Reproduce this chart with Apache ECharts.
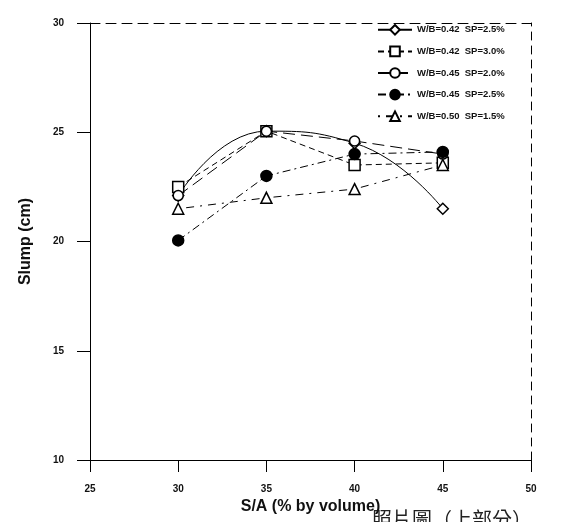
<!DOCTYPE html>
<html>
<head>
<meta charset="utf-8">
<script src="https://cdn.jsdelivr.net/npm/echarts@6/dist/echarts.min.js"></script>
<style>
html,body{margin:0;padding:0;background:#fff;}
#chart{width:565px;height:522px;}
</style>
</head>
<body>
<div id="chart"></div>
<script>
// S/A (% by volume)
const xValues = [30, 35, 40, 45];
// Slump (cm)
const wb042sp25 = [22.1, 25.05, 24.5, 21.5];
const wb042sp30 = [22.5, 25.05, 23.5, 23.6];
const wb045sp20 = [22.1, 25.05, 24.6, 24.0];
const wb045sp25 = [20.05, 23.0, 24.0, 24.1];
const wb050sp15 = [21.5, 22.0, 22.4, 23.5];
const seriesNames = [
  'W/B=0.42  SP=2.5%',
  'W/B=0.42  SP=3.0%',
  'W/B=0.45  SP=2.0%',
  'W/B=0.45  SP=2.5%',
  'W/B=0.50  SP=1.5%'
];
const xTicks = [25, 30, 35, 40, 45, 50];
const yTicks = [10, 15, 20, 25, 30];

const pair = arr => xValues.map((x, i) => [x, arr[i]]);
const font = 'Arial, "Liberation Sans", sans-serif';

const chart = echarts.init(document.getElementById('chart'), null, {renderer: 'canvas'});

function mk(name, data, symbol, filled, lineType, smooth, size) {
  return {
    name: name,
    type: 'line',
    data: pair(data),
    symbol: symbol,
    symbolSize: size,
    smooth: smooth,
    itemStyle: {color: filled ? '#000' : '#fff', borderColor: '#000', borderWidth: 1.5},
    lineStyle: {color: '#000', width: 1, type: lineType},
    z: filled ? 4 : 3
  };
}

chart.setOption({
  animation: false,
  backgroundColor: '#fff',
  grid: {left: 90, top: 23, width: 441, height: 437},
  legend: {
    orient: 'vertical',
    left: 372,
    top: 19,
    itemWidth: 34,
    itemHeight: 12,
    itemGap: 10,
    textStyle: {fontFamily: font, fontSize: 9.5, fontWeight: 'bold', color: '#111'},
    data: seriesNames
  },
  xAxis: [{
    type: 'value', min: 25, max: 50, interval: 5,
    name: 'S/A (% by volume)', nameLocation: 'middle', nameGap: 38,
    nameTextStyle: {fontFamily: font, fontSize: 16, fontWeight: 'bold', color: '#111'},
    axisLine: {lineStyle: {color: '#000', width: 1}},
    axisTick: {show: true, inside: false, length: 12, lineStyle: {color: '#000'}},
    axisLabel: {fontFamily: font, fontSize: 10, fontWeight: 'bold', color: '#111', margin: 24,
      formatter: v => xTicks.includes(v) ? String(v) : ''},
    splitLine: {show: false}
  }, {
    type: 'value', min: 25, max: 50, position: 'top',
    axisLine: {show: true, lineStyle: {color: '#000', width: 1, type: [10, 6]}},
    axisTick: {show: false}, axisLabel: {show: false}, splitLine: {show: false}
  }],
  yAxis: [{
    type: 'value', min: 10, max: 30, interval: 5,
    name: 'Slump (cm)', nameLocation: 'middle', nameGap: 56,
    nameTextStyle: {fontFamily: font, fontSize: 16, fontWeight: 'bold', color: '#111'},
    axisLine: {show: true, lineStyle: {color: '#000', width: 1}},
    axisTick: {show: true, inside: false, length: 13, lineStyle: {color: '#000'}},
    axisLabel: {fontFamily: font, fontSize: 10, fontWeight: 'bold', color: '#111', margin: 26,
      formatter: v => yTicks.includes(v) ? String(v) : ''},
    splitLine: {show: false}
  }, {
    type: 'value', min: 10, max: 30, position: 'right',
    axisLine: {show: true, lineStyle: {color: '#000', width: 1, type: [8, 6]}},
    axisTick: {show: false}, axisLabel: {show: false}, splitLine: {show: false}
  }],
  graphic: [{
    type: 'text', left: 372, top: 509, silent: true,
    style: {text: '照片圖（上部分）', font: '20px "Noto Sans CJK TC"', fill: '#222'}
  }],
  series: [
    mk(seriesNames[0], wb042sp25, 'diamond', false, 'solid', 0.5, 11),
    mk(seriesNames[1], wb042sp30, 'rect', false, [6, 4], false, 11),
    mk(seriesNames[2], wb045sp20, 'circle', false, [12, 6], false, 10),
    mk(seriesNames[3], wb045sp25, 'circle', true, [8, 4, 2, 4], false, 11),
    mk(seriesNames[4], wb050sp15, 'triangle', false, [2, 6, 8, 6], false, 11)
  ]
});
</script>
</body>
</html>
